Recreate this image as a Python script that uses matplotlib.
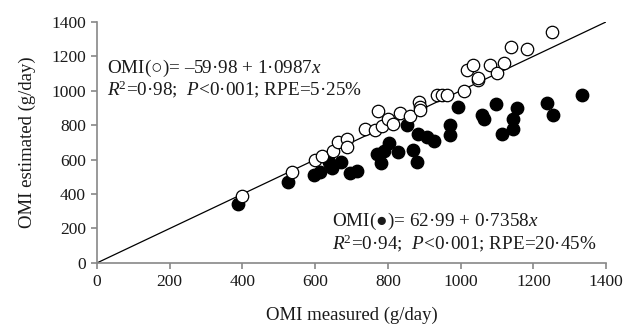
import numpy as np
import matplotlib.pyplot as plt

# OMI measured vs estimated (g/day)
open_x = [398, 537, 600, 620, 650, 664, 687, 687, 737, 765, 774, 783, 801, 813, 833,
          861, 886, 888, 888, 934, 948, 963, 1008, 1017, 1034, 1047, 1049, 1082, 1099,
          1120, 1139, 1183, 1250]
open_y = [388, 531, 599, 623, 652, 701, 717, 672, 779, 773, 880, 795, 838, 808, 873,
          853, 936, 906, 886, 974, 974, 974, 998, 1121, 1150, 1062, 1072, 1150, 1101,
          1160, 1256, 1240, 1340]

fill_x = [389, 526, 597, 613, 639, 647, 670, 696, 714, 771, 780, 788, 804, 829, 852,
          870, 881, 884, 907, 927, 971, 971, 994, 1058, 1065, 1097, 1113, 1143, 1145,
          1154, 1237, 1253, 1333]
fill_y = [344, 470, 512, 531, 584, 551, 584, 521, 535, 633, 578, 652, 695, 646, 803,
          658, 588, 750, 730, 711, 803, 744, 906, 861, 838, 923, 750, 775, 838,
          900, 931, 857, 974]

line_x = [0, 1400]
line_y = [0, 1400]

plt.rcParams['font.family'] = ['Liberation Serif', 'DejaVu Serif']
plt.rcParams['mathtext.fontset'] = 'custom'
plt.rcParams['mathtext.rm'] = 'Liberation Serif'
plt.rcParams['mathtext.it'] = 'Liberation Serif:italic'

fig = plt.figure(figsize=(6.3, 3.27), dpi=100)
ax = fig.add_axes([0.154, 0.196, 0.808, 0.737])

ax.plot(line_x, line_y, color='black', lw=0.9, zorder=1)
ax.scatter(fill_x, fill_y, s=80, color='black', zorder=2)
ax.scatter(open_x, open_y, s=80, facecolors='white', edgecolors='black', linewidths=0.9, zorder=3)

ax.set_xlim(0, 1400)
ax.set_ylim(0, 1400)
ax.set_xticks(np.arange(0, 1401, 200))
ax.set_yticks(np.arange(0, 1401, 200))

for s in ['top', 'right']:
    ax.spines[s].set_visible(False)
for s in ['left', 'bottom']:
    ax.spines[s].set_color('#888888')
    ax.spines[s].set_linewidth(1.2)
ax.tick_params(colors='#888888', labelcolor='#1a1a1a', labelsize=12.5, length=4, width=1.2, pad=4)

ax.set_xlabel('OMI measured (g/day)', fontsize=13.5, color='#1a1a1a', labelpad=12)
ax.set_ylabel('OMI estimated (g/day)', fontsize=13.5, color='#1a1a1a', labelpad=11)

fs = 13.8
ax.text(27, 1130, 'OMI(○)= –59·98 + 1·0987$x$', fontsize=fs, va='center', color='#1a1a1a')
ax.text(27, 1008, '$R$$^2$=0·98;  $P$<0·001; RPE=5·25%', fontsize=fs, va='center', color='#1a1a1a')
ax.text(646, 240, 'OMI(●)= 62·99 + 0·7358$x$', fontsize=fs, va='center', color='#1a1a1a')
ax.text(646, 117, '$R$$^2$=0·94;  $P$<0·001; RPE=20·45%', fontsize=fs, va='center', color='#1a1a1a')

fig.savefig('out.png', dpi=100)
